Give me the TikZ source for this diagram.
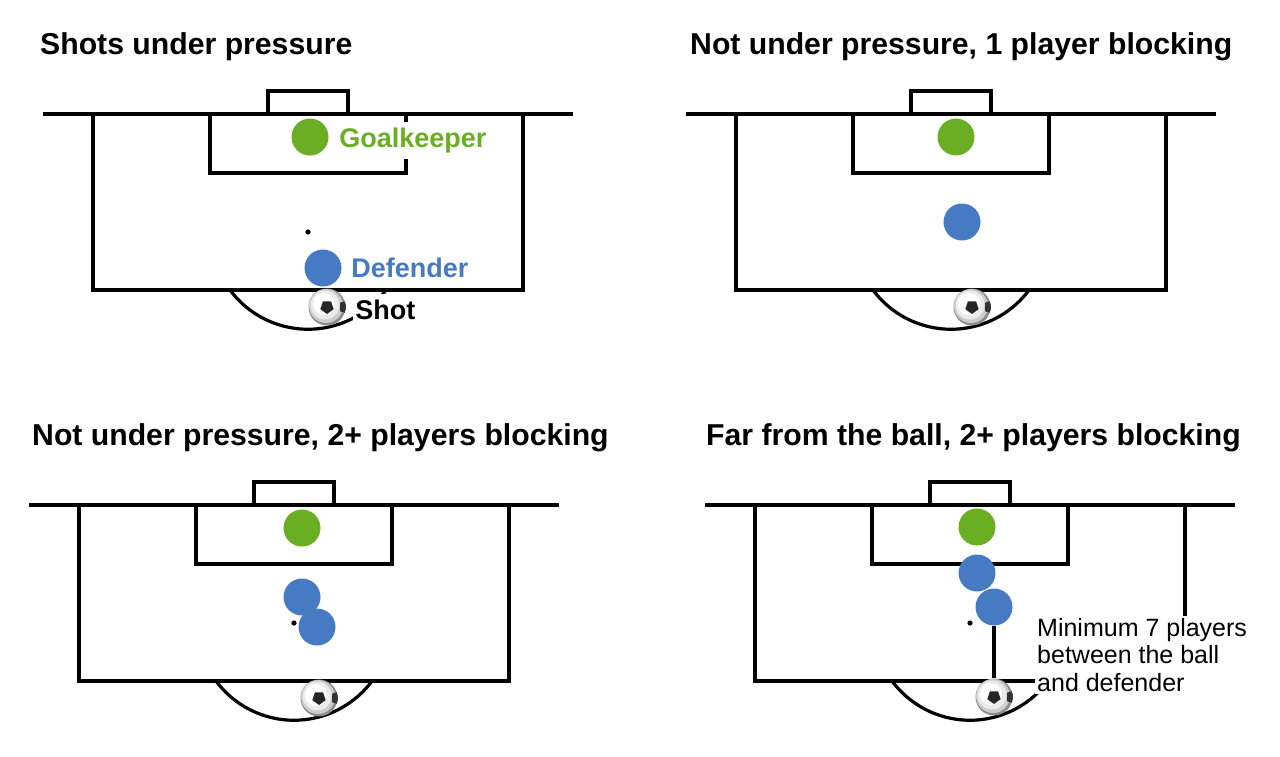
\documentclass[tikz,border=0pt]{standalone}
\usepackage{fontspec}
\setmainfont{Liberation Sans}
\usetikzlibrary{positioning}
\definecolor{keeper}{HTML}{6AAF23}
\definecolor{defence}{HTML}{467BC4}
\tikzset{
    chalk/.style={line width=3.2pt},
    keeperdot/.style={circle, fill=keeper, minimum size=37pt, inner sep=0pt},
    defdot/.style={circle, fill=defence, minimum size=37pt, inner sep=0pt},
    ball/.style={circle, minimum size=37pt, inner sep=0pt, fill=black!45,
        path picture={
            \begin{scope}[shift={(path picture bounding box.center)}]
                \fill[black!20] (-1pt,1pt) circle (17pt);
                \fill[black!8] (-2pt,2pt) circle (14.5pt);
                \fill[white] (-3pt,3pt) circle (11pt);
                \fill[black!85] (0pt,-7pt) -- (6.66pt,-2.16pt) -- (4.11pt,5.66pt) -- (-4.11pt,5.66pt) -- (-6.66pt,-2.16pt) -- cycle;
                \foreach \a in {90,162,234,306,18}
                    \fill[black!80, rotate=\a] (25pt,0pt) -- (20.4pt,6.3pt) -- (13pt,3.9pt) -- (13pt,-3.9pt) -- (20.4pt,-6.3pt) -- cycle;
            \end{scope}}},
    title/.style={anchor=base west, inner sep=0pt, font=\fontsize{30.2}{35}\selectfont\bfseries},
    tag/.style={inner xsep=2pt, inner ysep=6pt, fill=white, font=\fontsize{27}{32}\selectfont\bfseries},
    note/.style={align=left, inner sep=2pt, fill=white, font=\fontsize{25}{27.5}\selectfont}
}
\newcommand\drawpitch[1]{%
    \begin{scope}[shift={#1}]
        \draw[chalk] (43,114) -- (573,114);
        \draw[chalk] (268,114) -- (268,91) -- (348,91) -- (348,114);
        \draw[chalk] (93,114) -- (93,290) -- (523,290) -- (523,114);
        \draw[chalk] (210,114) -- (210,173) -- (406,173) -- (406,114);
        \fill (308,232) circle (2.6pt);
        \draw[chalk] (230,290) arc[start angle=216.6, end angle=323.4, radius=97.2pt];
    \end{scope}}

\begin{document}
\begin{tikzpicture}[x=1pt, y=-1pt]
    \useasboundingbox (0,0) rectangle (1280,756);

    \node[title] (t1) at (40,54) {Shots under pressure};
    \node[title] (t2) at (690,54) {Not under pressure, 1 player blocking};
    \node[title] (t3) at (32,445) {Not under pressure, 2+ players blocking};
    \node[title] (t4) at (706,445) {Far from the ball, 2+ players blocking};

    \drawpitch{(0,0)}
    \drawpitch{(643,0)}
    \drawpitch{(-14,391)}
    \drawpitch{(662,391)}

    \node[keeperdot] (gk1) at (310,137) {};
    \node[defdot] (def1) at (323,268) {};
    \node[ball] (ball1) at (327,307) {};
    \node[tag, text=keeper, right=8.5pt of gk1, yshift=-3.5pt] (gklabel) {Goalkeeper};
    \node[tag, text=defence, right=7.5pt of def1] (deflabel) {Defender};
    \node[tag, right=7.5pt of ball1, yshift=-3pt] (shotlabel) {Shot};

    \node[keeperdot] (gk2) at (956,137) {};
    \node[defdot] (def2) at (962,222) {};
    \node[ball] (ball2) at (972,307) {};

    \node[keeperdot] (gk3) at (302,528) {};
    \node[defdot] (def3a) at (302,597) {};
    \node[defdot] (def3b) at (317,627) {};
    \node[ball] (ball3) at (319,698) {};

    \node[keeperdot] (gk4) at (977,527) {};
    \node[defdot] (def4a) at (977,573) {};
    \node[defdot] (def4b) at (994,607) {};
    \node[ball] (ball4) at (994,697) {};
    \draw[chalk] (def4b) -- (ball4);
    \node[note, anchor=west] (far) at (1035,655) {Minimum 7 players\\between the ball\\and defender};
\end{tikzpicture}
\end{document}
